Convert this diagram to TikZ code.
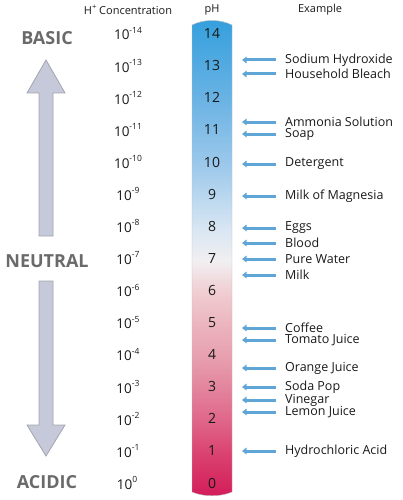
\documentclass[tikz,border=0pt]{standalone}
\usepackage{fontspec}
\setmainfont{Open Sans}
\usetikzlibrary{arrows.meta}
\definecolor{cA}{HTML}{D31B59}
\definecolor{cB}{HTML}{DA4270}
\definecolor{cC}{HTML}{DF6589}
\definecolor{cD}{HTML}{E3849D}
\definecolor{cE}{HTML}{E79FAF}
\definecolor{cF}{HTML}{EBB3BE}
\definecolor{cG}{HTML}{F0CDD2}
\definecolor{cH}{HTML}{F1EFF1}
\definecolor{cI}{HTML}{D9E6F2}
\definecolor{cJ}{HTML}{B9D7EF}
\definecolor{cK}{HTML}{9CC8EB}
\definecolor{cL}{HTML}{6AB3E4}
\definecolor{cM}{HTML}{3EA3DE}
\definecolor{cN}{HTML}{34A0DC}
\definecolor{exarrow}{HTML}{5FA6D6}
\definecolor{labgray}{HTML}{6A6A6A}
\definecolor{bigfill}{HTML}{C6C9D9}
\definecolor{bigdraw}{HTML}{A2A3AD}
\pgfdeclareverticalshading{phscale}{100bp}{%
color(0bp)=(cA); color(25bp)=(cA); color(29.5bp)=(cB); color(32.9bp)=(cC);
color(36.4bp)=(cD); color(39.6bp)=(cE); color(42.9bp)=(cF); color(46.4bp)=(cG);
color(49.7bp)=(cH); color(53bp)=(cI); color(56.5bp)=(cJ); color(59.8bp)=(cK);
color(66.6bp)=(cL); color(73.5bp)=(cM); color(75bp)=(cN); color(100bp)=(cN)}
\tikzset{
  hdr/.style={font=\fontsize{11}{12}\selectfont, text=black!90},
  phnum/.style={font=\fontsize{14}{15}\selectfont, text=black!90},
  conc/.style={font=\fontsize{13.5}{14}\selectfont, text=black!90},
  ex/.style={font=\fontsize{12.5}{12.5}\selectfont, text=black!90, anchor=west, inner sep=0pt},
  side/.style={font=\bfseries\fontsize{18}{18}\selectfont, text=labgray},
  exarr/.style={-{Triangle[length=4.5pt,width=6.5pt]}, line width=3pt, draw=exarrow},
  bigarrow/.style={fill=bigfill, draw=bigdraw, line width=0.8pt, line join=miter}
}
\newcommand{\ten}[1]{10\raisebox{0.5em}{\fontsize{8.5}{9}\selectfont #1}}
\begin{document}
\begin{tikzpicture}[x=1pt,y=-1pt]
\useasboundingbox (0,0) rectangle (403,500);
% headers
\node[hdr] (hconc) at (128,10) {H\raisebox{0.5em}{\fontsize{7.5}{8}\selectfont +} Concentration};
\node[hdr] (hph) at (212,10) {pH};
\node[hdr] (hex) at (320,10) {Example};
% tube
\shade[shading=phscale, draw=black!25, line width=0.4pt]
  (192,25) .. controls (204,19) and (220,19) .. (232,25) -- (232,492)
  .. controls (220,497) and (204,497) .. (192,492) -- cycle;
% pH numbers and concentrations
\foreach \p in {0,...,14}{
  \pgfmathsetmacro{\yy}{483-32.1*\p}
  \node[phnum] (ph\p) at (212,\yy) {\p};
  \pgfmathtruncatemacro{\e}{\p}
  \ifnum\e=0
    \node[conc] (c\p) at (127,\yy) {\ten{0}};
  \else
    \node[conc] (c\p) at (128,\yy) {\ten{-\e}};
  \fi
}
% side labels
\node[side] (basic) at (47,38) {BASIC};
\node[side] (neutral) at (47,261) {NEUTRAL};
\node[side] (acidic) at (47,482) {ACIDIC};
% big arrows
\draw[bigarrow] (39,236) -- (39,93) -- (27,93) -- (46,60) -- (65,93) -- (53,93) -- (53,236) -- cycle;
\draw[bigarrow] (39,281) -- (39,425) -- (27,425) -- (46,456) -- (65,425) -- (53,425) -- (53,281) -- cycle;
% examples
\foreach \y/\t/\n in {60/Sodium Hydroxide/e1, 74/Household Bleach/e2, 122/Ammonia Solution/e3,
  134/Soap/e4, 164/Detergent/e5, 196/Milk of Magnesia/e6, 228/Eggs/e7, 243/Blood/e8,
  259/Pure Water/e9, 275/Milk/e10, 328/Coffee/e11, 340/Tomato Juice/e12, 368/Orange Juice/e13,
  387/Soda Pop/e14, 400/Vinegar/e15, 412/Lemon Juice/e16, 451/Hydrochloric Acid/e17}{
  \node[ex] (\n) at (285,\y) {\t};
  \coordinate (\n t) at (242,\y);
  \draw[exarr] (276,\y) -- (\n t);
}
\end{tikzpicture}
\end{document}
